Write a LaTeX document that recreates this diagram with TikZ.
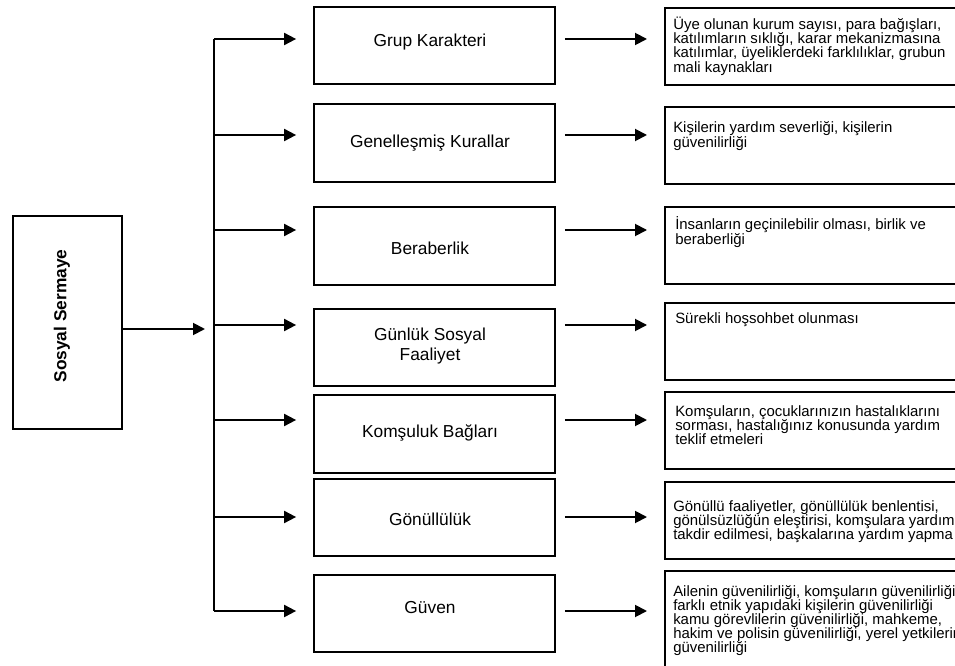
\documentclass[tikz,border=0pt]{standalone}
\usepackage{fontspec}
\setmainfont{Liberation Sans}
\usetikzlibrary{arrows.meta}

\newcommand{\desctxt}[1]{\parbox[t]{230pt}{\raggedright #1}}

\tikzset{
  midbox/.style={draw, line width=1.3pt, inner sep=0pt, minimum width=180.75pt, minimum height=58pt},
  descbox/.style={draw, line width=1.3pt, anchor=north west, inner sep=0pt, minimum width=224pt, minimum height=58pt},
  midtext/.style={font=\fontsize{13}{15}\selectfont, align=center, inner sep=0pt, anchor=base},
  desctext/.style={font=\fontsize{11.2}{10.65}\selectfont, anchor=base west, inner sep=0pt},
  busline/.style={line width=1.4pt},
  arr/.style={line width=1.4pt, -{Triangle[length=9pt,width=9pt]}}
}

\begin{document}
\begin{tikzpicture}[x=0.75pt,y=-0.75pt]
\clip (0,0) rectangle (955,666);

% sol kutu
\node[draw, line width=1.3pt, minimum width=81.75pt, minimum height=159.75pt] (ss) at (67.5,322.5) {};
\node[rotate=90, font=\bfseries\fontsize{13}{15}\selectfont, inner sep=0pt] (ss-t) at (62,316) {Sosyal Sermaye};

% orta kutular
\node[midbox] (grup) at (434.5,45.5) {};
\node[midbox] (genel) at (434.5,143) {};
\node[midbox] (berab) at (434.5,246) {};
\node[midbox] (gunluk) at (434.5,347.5) {};
\node[midbox] (komsu) at (434.5,434) {};
\node[midbox] (gonul) at (434.5,517.5) {};
\node[midbox] (guven) at (434.5,613.5) {};

\node[midtext] (grup-t) at (430,47) {Grup Karakteri};
\node[midtext] (genel-t) at (430,148) {Genelleşmiş Kurallar};
\node[midtext] (berab-t) at (430,255) {Beraberlik};
\node[midtext, anchor=center] (gunluk-t) at (430,346) {Günlük Sosyal\\Faaliyet};
\node[midtext] (komsu-t) at (430,437) {Komşuluk Bağları};
\node[midtext] (gonul-t) at (430,525) {Gönüllülük};
\node[midtext] (guven-t) at (430,613) {Güven};

% sag kutular
\node[descbox] (d1) at (664,7) {};
\node[descbox] (d2) at (664,106) {};
\node[descbox] (d3) at (664,206) {};
\node[descbox] (d4) at (664,302) {};
\node[descbox] (d5) at (664,391) {};
\node[descbox] (d6) at (664,481) {};
\node[descbox, minimum height=76pt] (d7) at (664,570) {};

\node[desctext] (d1-t) at (673,29.5) {\desctxt{Üye olunan kurum sayısı, para bağışları,\\katılımların sıklığı, karar mekanizmasına\\katılımlar, üyeliklerdeki farklılıklar, grubun\\mali kaynakları}};
\node[desctext] (d2-t) at (673,133) {\desctxt{Kişilerin yardım severliği, kişilerin\\güvenilirliği}};
\node[desctext] (d3-t) at (675,230) {\desctxt{İnsanların geçinilebilir olması, birlik ve\\beraberliği}};
\node[desctext] (d4-t) at (675,323) {\desctxt{Sürekli hoşsohbet olunması}};
\node[desctext] (d5-t) at (675,416) {\desctxt{Komşuların, çocuklarınızın hastalıklarını\\sorması, hastalığınız konusunda yardım\\teklif etmeleri}};
\node[desctext] (d6-t) at (673,511) {\desctxt{Gönüllü faaliyetler, gönüllülük benlentisi,\\gönülsüzlüğün eleştirisi, komşulara yardımın\\takdir edilmesi, başkalarına yardım yapma}};
\node[desctext] (d7-t) at (673,596) {\desctxt{Ailenin güvenilirliği, komşuların güvenilirliği,\\farklı etnik yapıdaki kişilerin güvenilirliği\\kamu görevlilerin güvenilirliği, mahkeme,\\hakim ve polisin güvenilirliği, yerel yetkilerin\\güvenilirliği}};

% baglantilar
\coordinate (bus) at (214,0);
\coordinate (hub) at (0,329);
\coordinate (a1) at (0,39);
\coordinate (a2) at (0,135);
\coordinate (a3) at (0,230);
\coordinate (a4) at (0,325);
\coordinate (a5) at (0,420);
\coordinate (a6) at (0,517);
\coordinate (a7) at (0,611);

\draw[arr] (ss.east |- hub) -- ([xshift=-6.75pt]bus |- hub);
\draw[busline] (bus |- a1) -- (bus |- a7);

\draw[arr] (bus |- a1) -- ([xshift=-12.75pt]grup.west |- a1);
\draw[arr] (bus |- a2) -- ([xshift=-12.75pt]genel.west |- a2);
\draw[arr] (bus |- a3) -- ([xshift=-12.75pt]berab.west |- a3);
\draw[arr] (bus |- a4) -- ([xshift=-12.75pt]gunluk.west |- a4);
\draw[arr] (bus |- a5) -- ([xshift=-12.75pt]komsu.west |- a5);
\draw[arr] (bus |- a6) -- ([xshift=-12.75pt]gonul.west |- a6);
\draw[arr] (bus |- a7) -- ([xshift=-12.75pt]guven.west |- a7);

\draw[arr] ([xshift=6.75pt]grup.east |- a1) -- ([xshift=-12.75pt]d1.west |- a1);
\draw[arr] ([xshift=6.75pt]genel.east |- a2) -- ([xshift=-12.75pt]d2.west |- a2);
\draw[arr] ([xshift=6.75pt]berab.east |- a3) -- ([xshift=-12.75pt]d3.west |- a3);
\draw[arr] ([xshift=6.75pt]gunluk.east |- a4) -- ([xshift=-12.75pt]d4.west |- a4);
\draw[arr] ([xshift=6.75pt]komsu.east |- a5) -- ([xshift=-12.75pt]d5.west |- a5);
\draw[arr] ([xshift=6.75pt]gonul.east |- a6) -- ([xshift=-12.75pt]d6.west |- a6);
\draw[arr] ([xshift=6.75pt]guven.east |- a7) -- ([xshift=-12.75pt]d7.west |- a7);
\end{tikzpicture}
\end{document}
